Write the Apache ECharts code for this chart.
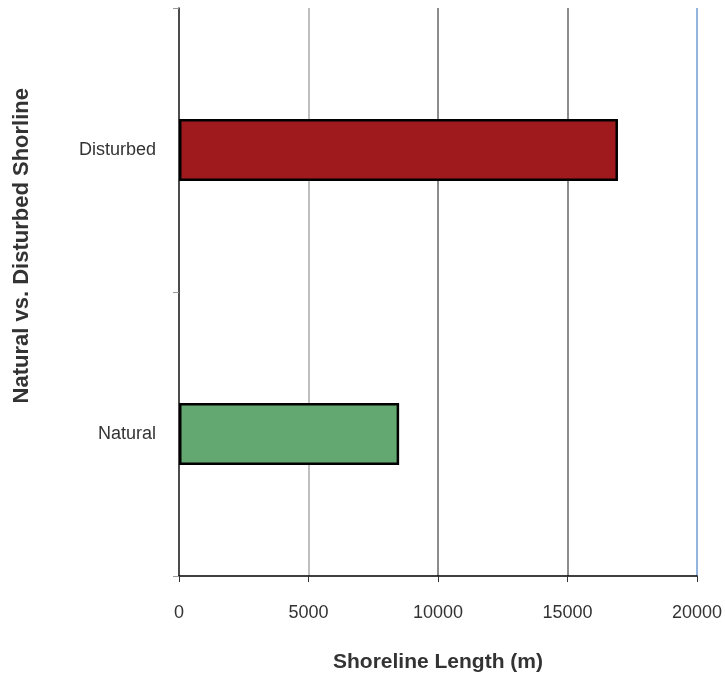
<!DOCTYPE html>
<html>
<head>
<meta charset="utf-8">
<script src="https://cdn.jsdelivr.net/npm/echarts@6/dist/echarts.min.js"></script>
<style>html,body{margin:0;padding:0;background:#fff;}#c{width:725px;height:682px;}</style>
</head>
<body>
<div id="c"></div>
<script>
const categories = ['Natural', 'Disturbed'];
const shorelineLength = [8500, 16950];
const barColors = ['#62A870', '#9E1A1C'];
const xTicks = [0, 5000, 10000, 15000, 20000];
const xTitle = 'Shoreline Length (m)';
const yTitle = 'Natural vs. Disturbed Shorline';

const FONT = '"Liberation Sans", Arial, sans-serif';
const chart = echarts.init(document.getElementById('c'));
chart.setOption({
  animation: false,
  grid: { left: 179, right: 28, top: 8, bottom: 106, show: false },
  xAxis: {
    type: 'value', min: xTicks[0], max: xTicks[xTicks.length - 1], interval: 5000,
    axisLine: { show: true, lineStyle: { color: '#000', width: 1.5 } },
    axisTick: { show: true, length: 6, lineStyle: { color: '#333' } },
    axisLabel: { margin: 28, color: '#333', fontSize: 18, fontFamily: FONT, formatter: v => String(v) },
    splitLine: { show: true, lineStyle: { color: ['#ffffff', '#aaaaaa', '#666666', '#666666', '#6F9BD1'], width: 1.5 } },
    name: xTitle, nameLocation: 'middle', nameGap: 76,
    nameTextStyle: { fontSize: 21, fontWeight: 'bold', color: '#333', fontFamily: FONT }
  },
  yAxis: {
    type: 'category', data: categories,
    axisLine: { show: true, lineStyle: { color: '#111', width: 1.5 } },
    axisTick: { show: true, length: 6, lineStyle: { color: '#999' } },
    axisLabel: { margin: 23, color: '#333', fontSize: 18, fontFamily: FONT },
    splitLine: { show: false }
  },
  graphic: [{
    type: 'text', left: 11, top: 88, rotation: Math.PI / 2,
    style: { text: yTitle, font: 'bold 22px ' + FONT, fill: '#333' }
  }],
  series: [{
    type: 'bar', barWidth: 62,
    data: shorelineLength.map((v, i) => ({ value: v, itemStyle: { color: barColors[i] } })),
    itemStyle: { borderColor: '#000', borderWidth: 2.5 }
  }]
});
</script>
</body>
</html>
